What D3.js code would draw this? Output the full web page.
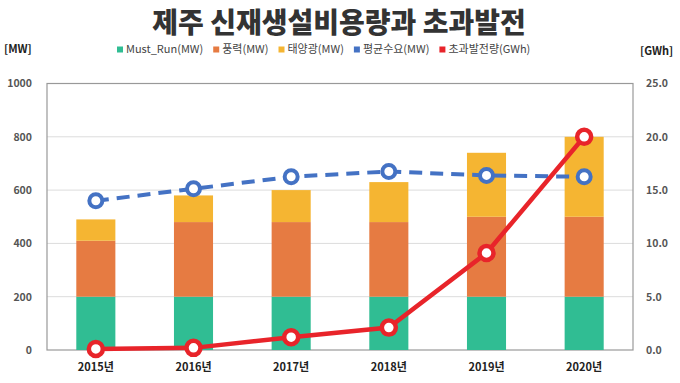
<!DOCTYPE html>
<html>
<head>
<meta charset="utf-8">
<script src="https://cdn.jsdelivr.net/npm/d3@7"></script>
<style>
  body { margin: 0; background: #fff; font-family: "Noto Sans CJK KR", "Noto Sans", sans-serif; }
</style>
</head>
<body>
<div id="container"></div>
<script>
// Chart data
const years = ['2015년', '2016년', '2017년', '2018년', '2019년', '2020년'];
const mustRun = [200, 200, 200, 200, 200, 200];
const wind = [210, 280, 280, 280, 300, 300];
const solar = [80, 100, 120, 150, 240, 300];
const avgDemand = [560, 605, 650, 670, 655, 650];
const excessGen = [0.1, 0.2, 1.2, 2.1, 9.1, 20.0];
const leftTicks = [0, 200, 400, 600, 800, 1000];
const rightTicks = [0, 5, 10, 15, 20, 25];

const width = 680;
const height = 383;
const margin = { top: 83.5, right: 47, bottom: 33, left: 47 };

const svg = d3.select('#container').append('svg')
    .attr('width', width)
    .attr('height', height);

const x = d3.scaleBand()
    .domain(years)
    .range([margin.left, width - margin.right])
    .paddingInner(0.6)
    .paddingOuter(0.3);

const y = d3.scaleLinear()
    .domain([0, 1000])
    .range([height - margin.bottom, margin.top]);

const y2 = d3.scaleLinear()
    .domain([0, 25])
    .range([height - margin.bottom, margin.top]);

// Title
svg.append('text')
    .attr('x', 339)
    .attr('y', 33)
    .attr('text-anchor', 'middle')
    .attr('font-size', 28)
    .attr('font-weight', 900)
    .attr('fill', '#333')
    .text('제주 신재생설비용량과 초과발전');

// Unit labels
svg.append('text')
    .attr('x', 4).attr('y', 53)
    .attr('font-size', 11).attr('font-weight', 700).attr('fill', '#222')
    .text('[MW]');
svg.append('text')
    .attr('x', 640).attr('y', 55)
    .attr('font-size', 11).attr('font-weight', 700).attr('fill', '#222')
    .text('[GWh]');

// Gridlines
svg.append('g')
    .selectAll('line')
    .data(leftTicks.slice(1, -1))
    .enter().append('line')
    .attr('x1', margin.left)
    .attr('x2', width - margin.right)
    .attr('y1', d => y(d))
    .attr('y2', d => y(d))
    .attr('stroke', '#dcdcdc')
    .attr('stroke-width', 1);

// Plot border
svg.append('rect')
    .attr('x', margin.left)
    .attr('y', margin.top)
    .attr('width', width - margin.left - margin.right)
    .attr('height', height - margin.top - margin.bottom)
    .attr('fill', 'none')
    .attr('stroke', '#999')
    .attr('stroke-width', 1.2);

// Stacked bars
const colors = ['#30bd93', '#e67b42', '#f5b532'];
const rows = years.map((yr, i) => ({ year: yr, mustRun: mustRun[i], wind: wind[i], solar: solar[i] }));
const stack = d3.stack().keys(['mustRun', 'wind', 'solar'])(rows);

svg.append('g')
    .selectAll('g')
    .data(stack)
    .enter().append('g')
    .attr('fill', (d, i) => colors[i])
    .selectAll('rect')
    .data(d => d)
    .enter().append('rect')
    .attr('x', d => x(d.data.year))
    .attr('y', d => y(d[1]))
    .attr('width', x.bandwidth())
    .attr('height', d => y(d[0]) - y(d[1]));

const cx = d => x(d) + x.bandwidth() / 2;

// Average demand (dashed blue)
const blue = '#4472c4';
svg.append('path')
    .datum(avgDemand)
    .attr('fill', 'none')
    .attr('stroke', blue)
    .attr('stroke-width', 4)
    .attr('stroke-dasharray', '13,8')
    .attr('d', d3.line().x((d, i) => cx(years[i])).y(d => y(d)));

svg.append('g')
    .selectAll('circle')
    .data(avgDemand)
    .enter().append('circle')
    .attr('cx', (d, i) => cx(years[i]))
    .attr('cy', d => y(d))
    .attr('r', 6.5)
    .attr('fill', '#fff')
    .attr('stroke', blue)
    .attr('stroke-width', 4);

// Excess generation (red, right axis)
const red = '#e8242a';
svg.append('path')
    .datum(excessGen)
    .attr('fill', 'none')
    .attr('stroke', red)
    .attr('stroke-width', 4.5)
    .attr('d', d3.line().x((d, i) => cx(years[i])).y(d => y2(d)));

svg.append('g')
    .selectAll('circle')
    .data(excessGen)
    .enter().append('circle')
    .attr('cx', (d, i) => cx(years[i]))
    .attr('cy', d => y2(d))
    .attr('r', 7)
    .attr('fill', '#fff')
    .attr('stroke', red)
    .attr('stroke-width', 4.5);

// Axes
const leftAxis = svg.append('g')
    .attr('transform', `translate(${margin.left - 12},0)`)
    .call(d3.axisLeft(y).tickValues(leftTicks).tickSize(0).tickFormat(d3.format('d')));
const rightAxis = svg.append('g')
    .attr('transform', `translate(${width - margin.right + 10},0)`)
    .call(d3.axisRight(y2).tickValues(rightTicks).tickSize(0).tickFormat(d3.format('.1f')));
const bottomAxis = svg.append('g')
    .attr('transform', `translate(0,${height - margin.bottom + 10})`)
    .call(d3.axisBottom(x).tickSize(0));

[leftAxis, rightAxis, bottomAxis].forEach(a => {
    a.select('.domain').remove();
    a.selectAll('text')
        .attr('font-family', '"Noto Sans CJK KR", "Noto Sans", sans-serif')
        .attr('font-size', 10.5)
        .attr('font-weight', 700)
        .attr('fill', '#555');
});
bottomAxis.selectAll('text').attr('fill', '#222').attr('font-size', 11);

// Legend
const legendItems = [
    { label: 'Must_Run(MW)', color: colors[0] },
    { label: '풍력(MW)', color: colors[1] },
    { label: '태양광(MW)', color: colors[2] },
    { label: '평균수요(MW)', color: blue },
    { label: '초과발전량(GWh)', color: red }
];
const legend = svg.append('g').attr('transform', 'translate(117,53)');
let lx = 0;
legendItems.forEach(item => {
    const g = legend.append('g').attr('transform', `translate(${lx},0)`);
    g.append('rect')
        .attr('x', 0).attr('y', -6.5)
        .attr('width', 6).attr('height', 6)
        .attr('fill', item.color);
    const t = g.append('text')
        .attr('x', 9).attr('y', 0)
        .attr('font-size', 11)
        .attr('fill', '#444')
        .text(item.label);
    lx += 9 + t.node().getComputedTextLength() + 10;
});
</script>
</body>
</html>
